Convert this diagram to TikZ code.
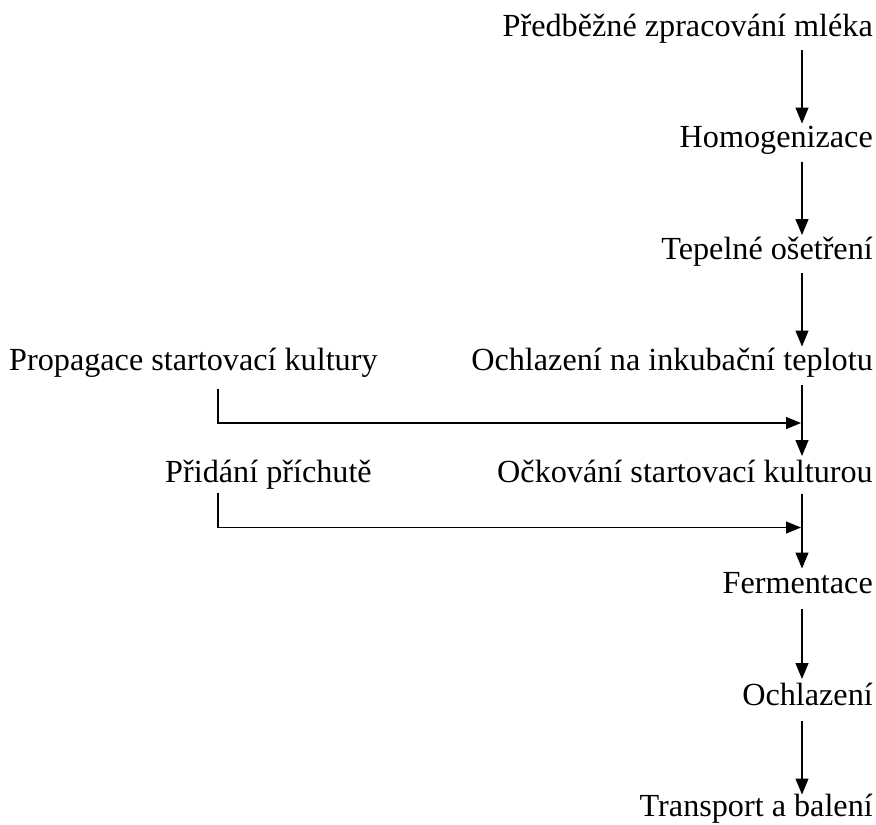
\documentclass[tikz,border=0pt]{standalone}
\usepackage{fontspec}
\setmainfont{Liberation Serif}
\usetikzlibrary{arrows.meta}
\begin{document}
\begin{tikzpicture}[x=1pt,y=-1pt,
  stage/.style={font=\fontsize{32.2}{36}\selectfont, inner sep=0pt, anchor=base east},
  input/.style={font=\fontsize{32.2}{36}\selectfont, inner sep=0pt, anchor=base west},
  flow/.style={line width=1.2pt, -{Triangle[length=16pt,width=13pt]}},
  feed/.style={line width=1.2pt, -{Triangle[length=15pt,width=12pt]}}]
\useasboundingbox (0,0) rectangle (876,825);
% main process column (right aligned)
\node[stage] (r1) at (873,36)    {Předběžné zpracování mléka};
\node[stage] (r2) at (873,147.5) {Homogenizace};
\node[stage] (r3) at (873,259)   {Tepelné ošetření};
\node[stage] (r4) at (873,370.5) {Ochlazení na inkubační teplotu};
\node[stage] (r5) at (873,482)   {Očkování startovací kulturou};
\node[stage] (r6) at (873,593.5) {Fermentace};
\node[stage] (r7) at (873,705)   {Ochlazení};
\node[stage] (r8) at (873,816.5) {Transport a balení};
% side inputs
\node[input] (s1) at (9,370.5)   {Propagace startovací kultury};
\node[input] (s2) at (165,482)   {Přidání příchutě};
% vertical spine of the flow and the feed-line column
\coordinate (spine) at (802,0);
\coordinate (feedx) at (218,0);
\coordinate (j1) at (802,423);
\coordinate (j2) at (802,527.5);
% main flow arrows
\draw[flow] ([yshift=-14pt]spine |- r1.base) -- ([yshift=24pt]spine |- r2.base);
\draw[flow] ([yshift=-14pt]spine |- r2.base) -- ([yshift=24pt]spine |- r3.base);
\draw[flow] ([yshift=-14pt]spine |- r3.base) -- ([yshift=24pt]spine |- r4.base);
\draw[flow] ([yshift=-14pt]spine |- r4.base) -- ([yshift=26pt]spine |- r5.base);
\draw[flow] ([yshift=-12pt]spine |- r5.base) -- ([yshift=25pt]spine |- r6.base);
\draw[flow] ([yshift=-15pt]spine |- r6.base) -- ([yshift=26pt]spine |- r7.base);
\draw[flow] ([yshift=-16pt]spine |- r7.base) -- ([yshift=22pt]spine |- r8.base);
% side feeds joining the spine
\draw[feed] ([yshift=-18pt]feedx |- s1.base) |- ([xshift=-1pt]j1);
\draw[feed] ([yshift=-11pt]feedx |- s2.base) |- ([xshift=-1pt]j2);
\end{tikzpicture}
\end{document}
